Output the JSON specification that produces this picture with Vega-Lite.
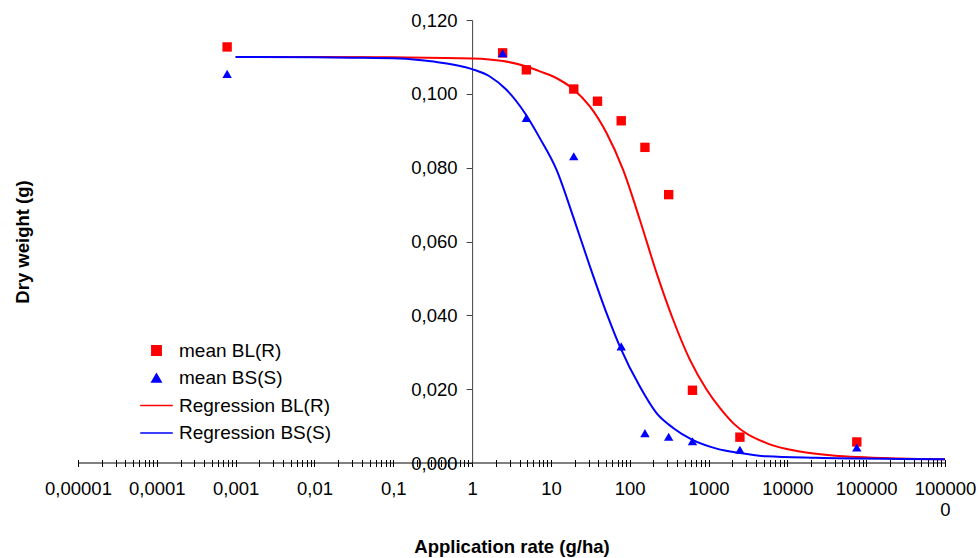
{
  "$schema": "https://vega.github.io/schema/vega-lite/v6.json",
  "width": 867,
  "height": 443,
  "autosize": {"type": "none"},
  "padding": {"left": 78, "top": 20, "right": 34, "bottom": 95},
  "background": "white",
  "config": {"view": {"stroke": null}, "font": "Liberation Sans", "axis": {"grid": false}},
  "datasets": {
    "points": [
      {"x": 0.00078, "y": 0.1127, "series": "mean BL(R)"},
      {"x": 2.44, "y": 0.1111, "series": "mean BL(R)"},
      {"x": 4.88, "y": 0.1065, "series": "mean BL(R)"},
      {"x": 19.5, "y": 0.1013, "series": "mean BL(R)"},
      {"x": 39, "y": 0.0980, "series": "mean BL(R)"},
      {"x": 78, "y": 0.0927, "series": "mean BL(R)"},
      {"x": 156, "y": 0.0855, "series": "mean BL(R)"},
      {"x": 312, "y": 0.0727, "series": "mean BL(R)"},
      {"x": 625, "y": 0.0197, "series": "mean BL(R)"},
      {"x": 2500, "y": 0.0070, "series": "mean BL(R)"},
      {"x": 76000, "y": 0.0057, "series": "mean BL(R)"},
      {"x": 0.00078, "y": 0.1054, "series": "mean BS(S)"},
      {"x": 2.44, "y": 0.1110, "series": "mean BS(S)"},
      {"x": 4.88, "y": 0.0935, "series": "mean BS(S)"},
      {"x": 19.5, "y": 0.0831, "series": "mean BS(S)"},
      {"x": 78, "y": 0.0316, "series": "mean BS(S)"},
      {"x": 156, "y": 0.0081, "series": "mean BS(S)"},
      {"x": 312, "y": 0.0071, "series": "mean BS(S)"},
      {"x": 625, "y": 0.0059, "series": "mean BS(S)"},
      {"x": 2500, "y": 0.0036, "series": "mean BS(S)"},
      {"x": 76000, "y": 0.0042, "series": "mean BS(S)"}
    ],
    "curves": [
      {"x": 0.001, "y": 0.1100, "series": "Regression BL(R)"},
      {"x": 0.01, "y": 0.1100, "series": "Regression BL(R)"},
      {"x": 0.1, "y": 0.1099, "series": "Regression BL(R)"},
      {"x": 1, "y": 0.1096, "series": "Regression BL(R)"},
      {"x": 2.47, "y": 0.1089, "series": "Regression BL(R)"},
      {"x": 4.9, "y": 0.1074, "series": "Regression BL(R)"},
      {"x": 7.23, "y": 0.1061, "series": "Regression BL(R)"},
      {"x": 10.7, "y": 0.1047, "series": "Regression BL(R)"},
      {"x": 19.1, "y": 0.1013, "series": "Regression BL(R)"},
      {"x": 31.2, "y": 0.0966, "series": "Regression BL(R)"},
      {"x": 50.8, "y": 0.0894, "series": "Regression BL(R)"},
      {"x": 82.5, "y": 0.0794, "series": "Regression BL(R)"},
      {"x": 134.4, "y": 0.0659, "series": "Regression BL(R)"},
      {"x": 218.9, "y": 0.0515, "series": "Regression BL(R)"},
      {"x": 355.5, "y": 0.0388, "series": "Regression BL(R)"},
      {"x": 579, "y": 0.0280, "series": "Regression BL(R)"},
      {"x": 943, "y": 0.0199, "series": "Regression BL(R)"},
      {"x": 1391, "y": 0.0149, "series": "Regression BL(R)"},
      {"x": 2051, "y": 0.0108, "series": "Regression BL(R)"},
      {"x": 5445, "y": 0.0054, "series": "Regression BL(R)"},
      {"x": 14400, "y": 0.0031, "series": "Regression BL(R)"},
      {"x": 37800, "y": 0.0020, "series": "Regression BL(R)"},
      {"x": 266000, "y": 0.0012, "series": "Regression BL(R)"},
      {"x": 1000000, "y": 0.0010, "series": "Regression BL(R)"},
      {"x": 0.001, "y": 0.1100, "series": "Regression BS(S)"},
      {"x": 0.01, "y": 0.1099, "series": "Regression BS(S)"},
      {"x": 0.03, "y": 0.1098, "series": "Regression BS(S)"},
      {"x": 0.12, "y": 0.1096, "series": "Regression BS(S)"},
      {"x": 0.3, "y": 0.1088, "series": "Regression BS(S)"},
      {"x": 1, "y": 0.1067, "series": "Regression BS(S)"},
      {"x": 1.68, "y": 0.1047, "series": "Regression BS(S)"},
      {"x": 2.73, "y": 0.1011, "series": "Regression BS(S)"},
      {"x": 4.67, "y": 0.0948, "series": "Regression BS(S)"},
      {"x": 7.23, "y": 0.0880, "series": "Regression BS(S)"},
      {"x": 11.8, "y": 0.0794, "series": "Regression BS(S)"},
      {"x": 19.1, "y": 0.0668, "series": "Regression BS(S)"},
      {"x": 31.2, "y": 0.0533, "series": "Regression BS(S)"},
      {"x": 50.8, "y": 0.0406, "series": "Regression BS(S)"},
      {"x": 74.8, "y": 0.0316, "series": "Regression BS(S)"},
      {"x": 134.4, "y": 0.0207, "series": "Regression BS(S)"},
      {"x": 218.9, "y": 0.0135, "series": "Regression BS(S)"},
      {"x": 355.5, "y": 0.0095, "series": "Regression BS(S)"},
      {"x": 608, "y": 0.0064, "series": "Regression BS(S)"},
      {"x": 1264, "y": 0.0039, "series": "Regression BS(S)"},
      {"x": 2496, "y": 0.0027, "series": "Regression BS(S)"},
      {"x": 5445, "y": 0.0018, "series": "Regression BS(S)"},
      {"x": 23500, "y": 0.0014, "series": "Regression BS(S)"},
      {"x": 266000, "y": 0.0011, "series": "Regression BS(S)"},
      {"x": 1000000, "y": 0.0010, "series": "Regression BS(S)"}
    ]
  },
  "encoding": {
    "x": {
      "field": "x", "type": "quantitative",
      "scale": {"type": "log", "domain": [0.00001, 1000000], "nice": false},
      "axis": {
        "values": [0.00001,0.00002,0.00003,0.00004,0.00005,0.00006,0.00007,0.00008,0.00009,
                   0.0001,0.0002,0.0003,0.0004,0.0005,0.0006,0.0007,0.0008,0.0009,
                   0.001,0.002,0.003,0.004,0.005,0.006,0.007,0.008,0.009,
                   0.01,0.02,0.03,0.04,0.05,0.06,0.07,0.08,0.09,
                   0.1,0.2,0.3,0.4,0.5,0.6,0.7,0.8,0.9,
                   1,2,3,4,5,6,7,8,9,
                   10,20,30,40,50,60,70,80,90,
                   100,200,300,400,500,600,700,800,900,
                   1000,2000,3000,4000,5000,6000,7000,8000,9000,
                   10000,20000,30000,40000,50000,60000,70000,80000,90000,
                   100000,200000,300000,400000,500000,600000,700000,800000,900000,
                   1000000],
        "labelExpr": "abs(log(datum.value)/LN10 - round(log(datum.value)/LN10)) > 0.001 ? '' : (datum.value > 500000 ? ['100000', '0'] : replace(format(datum.value, '~f'), '.', ','))",
        "orient": "bottom",
        "domain": false,
        "offset": -3.5,
        "tickSize": 7,
        "tickColor": "black", "tickWidth": 1,
        "labelPadding": 13, "labelFontSize": 18.5, "labelFont": "Liberation Sans", "labelColor": "black",
        "labelOverlap": false, "labelBound": false, "labelFlush": false, "labelBaseline": "top", "labelLineHeight": 21,
        "title": "Application rate (g/ha)", "titleFontSize": 18.5, "titleFontWeight": "bold", "titleFont": "Liberation Sans",
        "titleColor": "black", "titleY": 93, "titleBaseline": "alphabetic", "grid": false
      }
    },
    "y": {
      "field": "y", "type": "quantitative",
      "scale": {"domain": [0, 0.12], "nice": false},
      "axis": {
        "values": [0, 0.02, 0.04, 0.06, 0.08, 0.1, 0.12],
        "labelExpr": "replace(format(datum.value, '.3f'), '.', ',')",
        "orient": "left",
        "offset": -394.1,
        "domainColor": "#444", "tickColor": "#444", "tickSize": 6, "labelPadding": 9,
        "labelFontSize": 18.5, "labelFont": "Liberation Sans", "labelColor": "black",
        "labelOverlap": false, "labelBound": false, "labelFlush": false,
        "title": "Dry weight (g)", "titleFontSize": 18.5, "titleFontWeight": "bold", "titleFont": "Liberation Sans",
        "titleColor": "black", "titleX": -450, "titleBaseline": "middle", "grid": false
      }
    },
    "color": {
      "field": "series", "type": "nominal",
      "scale": {"domain": ["mean BL(R)", "mean BS(S)", "Regression BL(R)", "Regression BS(S)"], "range": ["#FF0000", "#0000FF", "#FF0000", "#0000FF"]},
      "legend": {
        "title": null, "orient": "none", "legendX": 69, "legendY": 321,
        "labelFontSize": 19, "labelFont": "Liberation Sans", "labelColor": "black", "labelLimit": 400,
        "symbolSize": 88, "symbolStrokeWidth": 1.5, "labelOffset": 13, "rowPadding": 7.5, "padding": 0
      }
    }
  },
  "layer": [
    {
      "data": {"values": [{"x0": 0.00001, "x1": 1000000, "y0": 0}]},
      "mark": {"type": "rule", "color": "black", "strokeWidth": 1},
      "encoding": {
        "x": {"field": "x0", "type": "quantitative"},
        "x2": {"field": "x1"},
        "y": {"field": "y0", "type": "quantitative"},
        "color": {"value": "black"}
      }
    },
    {
      "data": {"name": "curves"},
      "mark": {"type": "line", "interpolate": "monotone", "strokeWidth": 2}
    },
    {
      "data": {"name": "points"},
      "mark": {"type": "point", "filled": true, "opacity": 1, "size": 88},
      "encoding": {
        "shape": {
          "field": "series", "type": "nominal",
          "scale": {"domain": ["mean BL(R)", "mean BS(S)", "Regression BL(R)", "Regression BS(S)"], "range": ["square", "triangle-up", "M-3.47,0L3.47,0", "M-3.47,0L3.47,0"]},
          "legend": {
            "title": null, "orient": "none", "legendX": 69, "legendY": 321,
            "labelFontSize": 19, "labelFont": "Liberation Sans", "labelColor": "black", "labelLimit": 400,
            "symbolSize": 88, "symbolStrokeWidth": 1.5, "labelOffset": 13, "rowPadding": 7.5, "padding": 0
          }
        }
      }
    }
  ]
}
